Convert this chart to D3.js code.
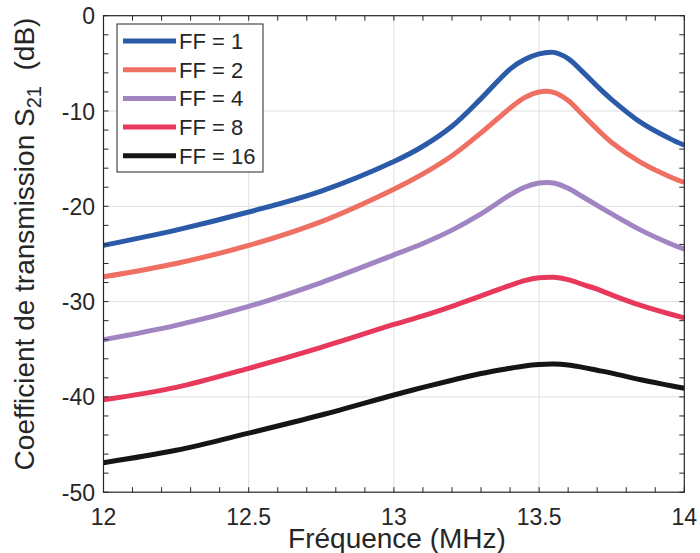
<!DOCTYPE html>
<html><head><meta charset="utf-8">
<script src="https://cdn.jsdelivr.net/npm/d3@7"></script>
<style>body{margin:0;background:#fff;}svg{display:block;font-family:"Liberation Sans",Arial,sans-serif;}</style>
</head><body><svg id="c" width="700" height="553"></svg>
<script>
const freq = [12, 12.25, 12.5, 12.75, 13, 13.1, 13.2, 13.3, 13.4, 13.45, 13.5, 13.55, 13.6, 13.65, 13.7, 13.75, 13.85, 13.95, 14];
const ff1  = [-24.1, -22.5, -20.6, -18.4, -15.3, -13.7, -11.6, -8.7, -5.6, -4.6, -4.0, -3.85, -4.5, -5.9, -7.4, -8.8, -11.2, -12.9, -13.6];
const ff2  = [-27.4, -26.0, -24.1, -21.6, -18.2, -16.6, -14.7, -12.3, -9.7, -8.6, -8.0, -8.05, -8.9, -10.4, -11.9, -13.3, -15.4, -16.9, -17.5];
const ff4  = [-34.0, -32.5, -30.5, -28.0, -25.1, -23.9, -22.5, -20.8, -18.8, -18.0, -17.55, -17.55, -18.1, -19.0, -19.9, -20.8, -22.5, -23.9, -24.5];
const ff8  = [-40.3, -39.0, -37.0, -34.8, -32.4, -31.5, -30.5, -29.4, -28.3, -27.8, -27.5, -27.45, -27.7, -28.2, -28.7, -29.3, -30.4, -31.3, -31.7];
const ff16 = [-46.9, -45.6, -43.8, -41.9, -39.8, -39.0, -38.25, -37.55, -37.0, -36.75, -36.6, -36.55, -36.65, -36.9, -37.2, -37.5, -38.2, -38.8, -39.1];
const seriesNames = ["FF = 1", "FF = 2", "FF = 4", "FF = 8", "FF = 16"];
const seriesValues = [ff1, ff2, ff4, ff8, ff16];
const colors = ["#2b5ba8", "#ef6f62", "#a085c2", "#e8385c", "#151515"];
const xTicks = [12, 12.5, 13, 13.5, 14];
const yTicks = [0, -10, -20, -30, -40, -50];

const svg = d3.select("#c");
const L = 103.5, R = 684.3, T = 15.7, B = 492.2;
const x = d3.scaleLinear().domain([12, 14]).range([L, R]);
const y = d3.scaleLinear().domain([-50, 0]).range([B, T]);
const axCol = "#262626";

// grid
const g = svg.append("g");
g.selectAll(".gx").data(xTicks.slice(1, -1)).enter().append("line")
  .attr("x1", d => x(d)).attr("x2", d => x(d)).attr("y1", T).attr("y2", B)
  .attr("stroke", "#dedede").attr("stroke-width", 1);
g.selectAll(".gy").data(yTicks.slice(1, -1)).enter().append("line")
  .attr("y1", d => y(d)).attr("y2", d => y(d)).attr("x1", L).attr("x2", R)
  .attr("stroke", "#dedede").attr("stroke-width", 1);

// lines
const line = d3.line().x(d => x(d[0])).y(d => y(d[1])).curve(d3.curveCatmullRom.alpha(0.5));
seriesValues.forEach((vals, i) => {
  svg.append("path").datum(freq.map((f, j) => [f, vals[j]]))
    .attr("d", line).attr("fill", "none").attr("stroke", colors[i])
    .attr("stroke-width", 5).attr("stroke-linejoin", "round");
});

// axes (inward ticks)
const xMinor = d3.range(0, 21).map(i => 12 + i * 0.1);
const yMinor = d3.range(0, 26).map(i => -50 + i * 2);
const tl = 5;
const ax = svg.append("g").attr("stroke", axCol).attr("stroke-width", 1);
xMinor.forEach(v => {
  ax.append("line").attr("x1", x(v)).attr("x2", x(v)).attr("y1", B).attr("y2", B - tl);
  ax.append("line").attr("x1", x(v)).attr("x2", x(v)).attr("y1", T).attr("y2", T + tl);
});
yMinor.forEach(v => {
  ax.append("line").attr("y1", y(v)).attr("y2", y(v)).attr("x1", L).attr("x2", L + tl);
  ax.append("line").attr("y1", y(v)).attr("y2", y(v)).attr("x1", R).attr("x2", R - tl);
});
svg.append("rect").attr("x", L).attr("y", T).attr("width", R - L).attr("height", B - T)
  .attr("fill", "none").attr("stroke", axCol).attr("stroke-width", 1.2);

// tick labels
svg.selectAll(".xl").data(xTicks).enter().append("text")
  .attr("x", d => x(d)).attr("y", 525).attr("text-anchor", "middle")
  .attr("font-size", 23).attr("fill", axCol).text(d => String(d));
svg.selectAll(".yl").data(yTicks).enter().append("text")
  .attr("x", 95).attr("y", d => y(d) + 8.5).attr("text-anchor", "end")
  .attr("font-size", 23).attr("fill", axCol).text(d => d === 0 ? "0" : "-" + Math.abs(d));

// axis labels
svg.append("text").attr("x", 397).attr("y", 548).attr("text-anchor", "middle")
  .attr("font-size", 28).attr("fill", axCol).text("Fréquence (MHz)");
const yl = svg.append("text").attr("transform", "translate(34,244) rotate(-90)")
  .attr("text-anchor", "middle").attr("font-size", 28).attr("fill", axCol)
  .attr("xml:space", "preserve");
yl.append("tspan").text("Coefficient de transmission S");
yl.append("tspan").attr("font-size", 20).attr("dy", 7).text("21");
yl.append("tspan").attr("dy", -7).text("  (dB)");

// legend
const lg = svg.append("g");
lg.append("rect").attr("x", 117).attr("y", 24).attr("width", 146).attr("height", 148)
  .attr("fill", "#fff").attr("stroke", axCol).attr("stroke-width", 1);
seriesNames.forEach((n, i) => {
  const yy = 41 + i * 28.7;
  lg.append("line").attr("x1", 123).attr("x2", 176).attr("y1", yy).attr("y2", yy)
    .attr("stroke", colors[i]).attr("stroke-width", 5);
  lg.append("text").attr("x", 179).attr("y", yy + 8).attr("font-size", 22).attr("fill", axCol).text(n);
});
</script></body></html>
